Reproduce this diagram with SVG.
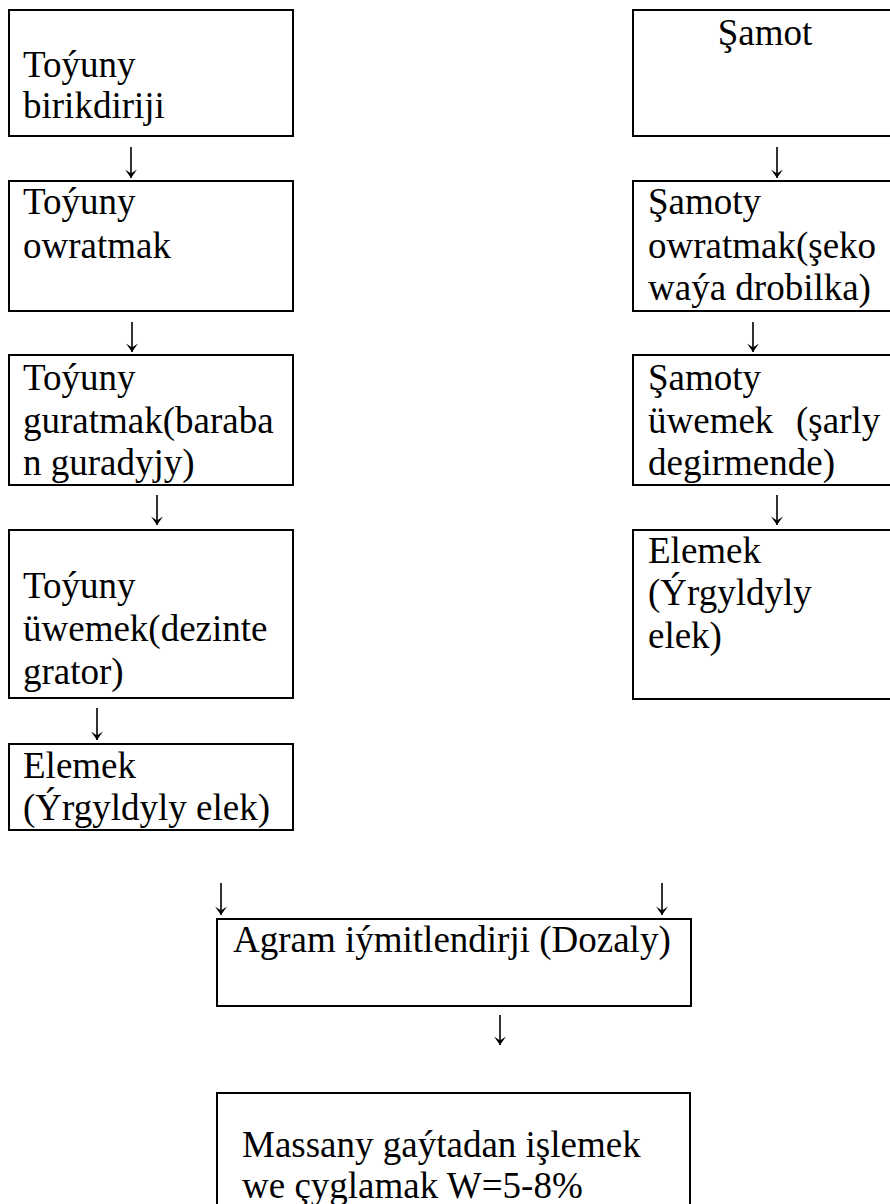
<svg xmlns="http://www.w3.org/2000/svg" width="890" height="1204" viewBox="0 0 890 1204">
<style>
.box{fill:#fff;stroke:#000;stroke-width:2}
.t{font-family:'Liberation Serif',serif;font-size:37px;fill:#000}
.c{stroke:#000;stroke-width:1.6;fill:none}
</style>
<defs>
<marker id="ah" markerUnits="userSpaceOnUse" markerWidth="14" markerHeight="12" refX="6.5" refY="10" orient="0" viewBox="0 0 14 12">
<path d="M0.5,1.5 L6.5,10 L12.5,1.5 L6.5,5.5 Z" fill="#000"/>
</marker>
</defs>
<rect width="890" height="1204" fill="#fff"/>
<g id="n-l1"><rect class="box" x="9" y="10" width="284" height="126"/><text class="t" x="23" y="77">Toýuny</text><text class="t" x="23" y="118">birikdiriji</text></g>
<g id="n-l2"><rect class="box" x="9" y="181" width="284" height="130"/><text class="t" x="23" y="214">Toýuny</text><text class="t" x="23" y="258">owratmak</text></g>
<g id="n-l3"><rect class="box" x="9" y="355" width="284" height="130"/><text class="t" x="23" y="390">Toýuny</text><text class="t" x="23" y="433">guratmak(baraba</text><text class="t" x="23" y="475">n guradyjy)</text></g>
<g id="n-l4"><rect class="box" x="9" y="530" width="284" height="168"/><text class="t" x="23" y="598">Toýuny</text><text class="t" x="23" y="641">üwemek(dezinte</text><text class="t" x="23" y="684">grator)</text></g>
<g id="n-l5"><rect class="box" x="9" y="744" width="284" height="86"/><text class="t" x="23" y="778">Elemek</text><text class="t" x="23" y="820">(Ýrgyldyly elek)</text></g>
<g id="n-r1"><rect class="box" x="633" y="10" width="284" height="126"/><text class="t" x="765" y="45" text-anchor="middle">Şamot</text></g>
<g id="n-r2"><rect class="box" x="633" y="181" width="284" height="130"/><text class="t" x="648" y="214">Şamoty</text><text class="t" x="648" y="258">owratmak(şeko</text><text class="t" x="648" y="300">waýa drobilka)</text></g>
<g id="n-r3"><rect class="box" x="633" y="355" width="284" height="130"/><text class="t" x="648" y="390">Şamoty</text><text class="t" x="648" y="433">üwemek</text><text class="t" x="796" y="433">(şarly</text><text class="t" x="648" y="475">degirmende)</text></g>
<g id="n-r4"><rect class="box" x="633" y="530" width="284" height="169"/><text class="t" x="648" y="563">Elemek</text><text class="t" x="648" y="605">(Ýrgyldyly</text><text class="t" x="648" y="648">elek)</text></g>
<g id="n-b1"><rect class="box" x="217" y="919" width="474" height="87"/><text class="t" x="233" y="952">Agram iýmitlendirji (Dozaly)</text></g>
<g id="n-b2"><rect class="box" x="217" y="1093" width="473" height="130"/><text class="t" x="242" y="1157">Massany gaýtadan işlemek</text><text class="t" x="242" y="1198">we çyglamak W=5-8%</text></g>
<g id="connectors">
<path class="c" d="M131,147V178" marker-end="url(#ah)"/>
<path class="c" d="M132,322V352" marker-end="url(#ah)"/>
<path class="c" d="M157,495V525" marker-end="url(#ah)"/>
<path class="c" d="M97,708V740" marker-end="url(#ah)"/>
<path class="c" d="M777,147V178" marker-end="url(#ah)"/>
<path class="c" d="M753,322V352" marker-end="url(#ah)"/>
<path class="c" d="M777,495V525" marker-end="url(#ah)"/>
<path class="c" d="M221,883V915" marker-end="url(#ah)"/>
<path class="c" d="M662,883V915" marker-end="url(#ah)"/>
<path class="c" d="M500,1015V1045" marker-end="url(#ah)"/>
</g>
</svg>
